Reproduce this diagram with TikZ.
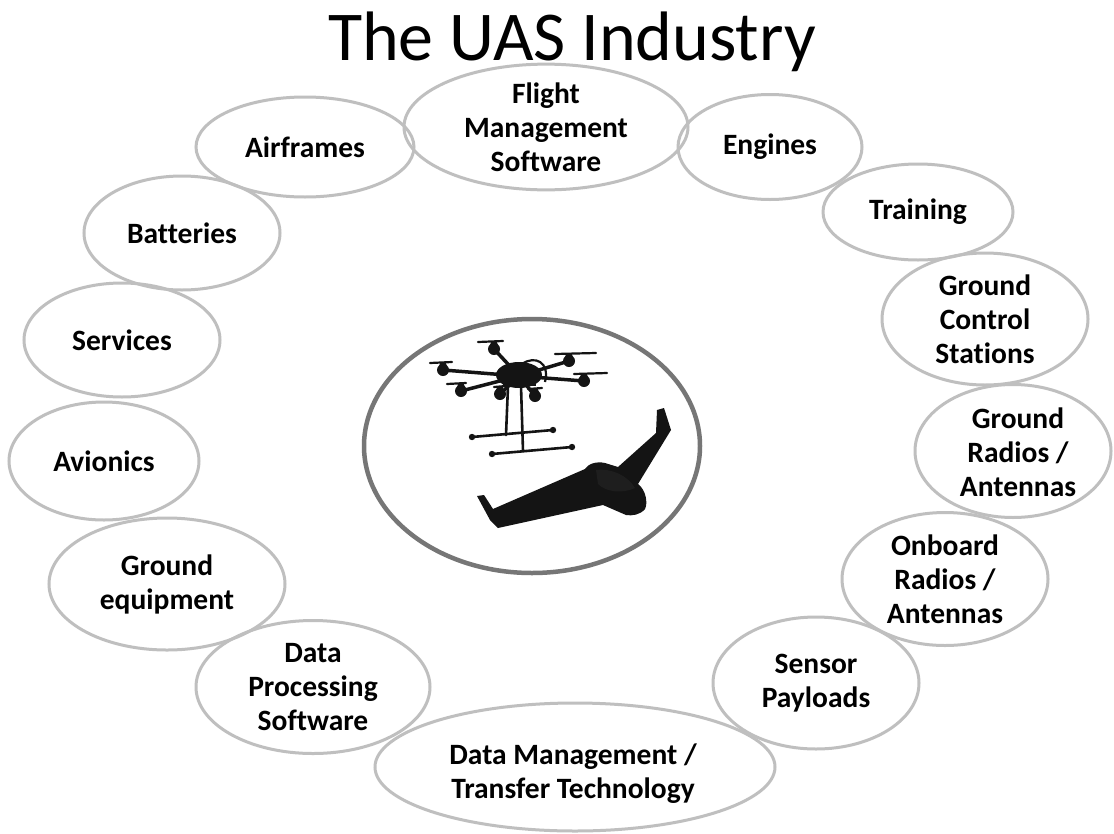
\documentclass[tikz,border=0pt]{standalone}
\usepackage{fontspec}
\setmainfont{Carlito}[Ligatures=NoCommon]
\usetikzlibrary{shapes.geometric}
\definecolor{ringgray}{HTML}{BFBFBF}
\definecolor{hubgray}{HTML}{767676}
\definecolor{craft}{HTML}{141414}
\definecolor{craftlight}{HTML}{1E1E1E}
\tikzset{
  ring/.style={ellipse, draw=ringgray, line width=3pt, inner sep=0pt},
  segtext/.style={align=center, inner sep=0pt, font=\bfseries\fontsize{29.5}{34}\selectfont},
  seg/.style={ring, segtext},
  arm/.style={craft, line width=3.5pt, line cap=round},
  prop/.style={craft, line width=2.2pt, line cap=round},
  skid/.style={craft, line width=2.6pt, line cap=round},
}
\newcommand{\seg}[6]{%
  \node[seg, minimum width=#3pt, minimum height=#4pt] (#5) at (#1,#2) {#6};}
\begin{document}
\begin{tikzpicture}[x=1pt,y=-1pt]
\useasboundingbox (0,0) rectangle (1114,833);
\fill[white] (0,0) rectangle (1114,833);

% title
\node[anchor=base, font=\fontsize{70}{80}\selectfont, inner sep=0pt] (title) at (572,60) {The UAS Industry};

% ring of industry segments: x, y, width, height, name, text
\seg{305}{147}{218}{100}{airframes}{Airframes}
\seg{546}{127}{284}{100}{fms}{Flight\\Management\\Software}
\seg{770}{147}{184}{105}{engines}{Engines}
\seg{918}{212}{190}{96}{training}{Training}
\seg{985}{319}{206}{132}{gcs}{Ground\\Control\\Stations}
\node[ring, minimum width=196pt, minimum height=133pt] (gradio) at (1013,451) {};
\node[segtext] (gradiotext) at (1018,452) {Ground\\Radios /\\Antennas};
\seg{945}{579}{206}{133}{oradio}{Onboard\\Radios /\\Antennas}
\seg{816}{683}{206}{132}{sensor}{Sensor\\Payloads}
\node[ring, minimum width=400pt, minimum height=128pt] (dmt) at (575,767) {};
\node[segtext] (dmttext) at (573,774) {Data Management /\\Transfer Technology};
\seg{313}{687}{234}{133}{dps}{Data\\Processing\\Software}
\seg{167}{584}{236}{132}{groundeq}{Ground\\equipment}
\seg{104}{461}{190}{118}{avionics}{Avionics}
\seg{122}{340}{196}{114}{services}{Services}
\seg{182}{233}{196}{114}{batteries}{Batteries}

% central frame
\node[ellipse, draw=hubgray, line width=4.5pt, minimum width=336pt, minimum height=254pt, inner sep=0pt] (hub) at (532,446) {};

% multirotor: arms
\foreach \mx/\my in {443/370, 461/391, 494/349, 569/361, 584/381, 535/396, 500/394}
  \draw[arm] (519,376) -- (\mx,\my);
% multirotor: body
\fill[craft] (519,375) ellipse (23pt and 13pt);
\fill[craft] (503,366) rectangle (536,386);
\draw[craft, line width=2.2pt] (522,364) .. controls (535,355) and (550,362) .. (545,382);
% multirotor: motors and propellers
\foreach \mx/\my/\ax/\bx in {443/370/430/452, 461/391/447/466, 494/349/478/503, 569/361/555/596, 584/381/574/607, 535/396/528/542, 500/394/494/506}{
  \fill[craft] (\mx,\my) circle (6pt);
  \fill[craft] (\mx,\my-4) circle (4pt);
  \draw[prop] (\ax,\my-7) -- (\bx,\my-8);
}
% multirotor: landing gear
\draw[skid] (508,386) -- (506,435);
\draw[skid] (521,386) -- (523,451);
\draw[skid] (472,437) -- (553,430);
\draw[skid] (492,454) -- (572,447);
\foreach \px/\py in {472/437, 553/430, 492/454, 572/447}
  \fill[craft] (\px,\py) circle (3.2pt);

% flying wing
\fill[craft] (477,496) -- (484,495) -- (493,509) -- (585,469)
  .. controls (588,464) and (596,461) .. (605,463)
  -- (618,467) -- (656,433) -- (657,410) -- (664,408) -- (671,430)
  -- (638,484) .. controls (646,490) and (648,503) .. (645,509)
  .. controls (640,515) and (632,516) .. (626,515)
  -- (603,505) -- (498,528) -- (490,520) -- cycle;
\fill[craftlight] (596,470) .. controls (612,468) and (628,476) .. (635,488)
  .. controls (622,494) and (606,492) .. (598,484) -- cycle;
\end{tikzpicture}
\end{document}
